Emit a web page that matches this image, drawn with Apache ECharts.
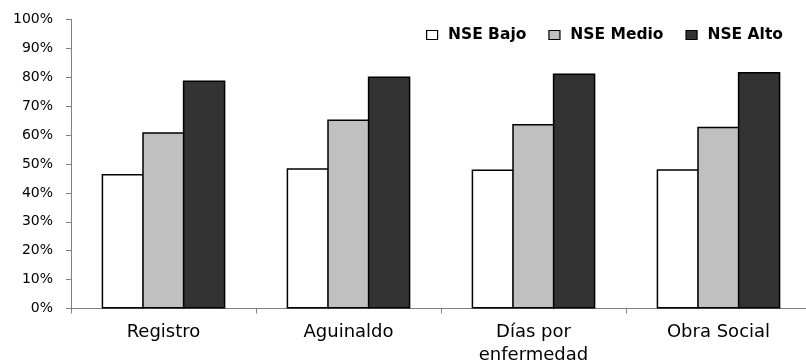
<!DOCTYPE html>
<html>
<head>
<meta charset="utf-8">
<script src="https://cdn.jsdelivr.net/npm/echarts@6/dist/echarts.min.js"></script>
<style>
html,body{margin:0;padding:0;background:#fff;}
#chart{width:806px;height:361px;}
</style>
</head>
<body>
<div id="chart"></div>
<script>
const categories = ['Registro', 'Aguinaldo', 'Días por\nenfermedad', 'Obra Social'];
const seriesNames = ['NSE Bajo', 'NSE Medio', 'NSE Alto'];
const nseBajo = [46.5, 48.5, 48.1, 48.2];
const nseMedio = [61.0, 65.4, 63.8, 62.9];
const nseAlto = [78.9, 80.3, 81.3, 81.8];
const yTicks = [0, 10, 20, 30, 40, 50, 60, 70, 80, 90, 100];

const colors = ['#ffffff', '#c0c0c0', '#333333'];
const seriesData = [nseBajo, nseMedio, nseAlto];

const chart = echarts.init(document.getElementById('chart'), null, {renderer: 'canvas'});
const font = 'DejaVu Sans';
chart.setOption({
  animation: false,
  backgroundColor: '#ffffff',
  grid: {left: 71, top: 19.5, height: 289, width: 740, containLabel: false, outerBoundsMode: 'none'},
  legend: {
    left: 426, top: 27, padding: 0,
    itemWidth: 11, itemHeight: 9, itemGap: 22,
    icon: 'rect',
    data: seriesNames,
    formatter: name => ' ' + name,
    textStyle: {fontFamily: font, fontWeight: 'bold', fontSize: 15.5, color: '#000'},
    itemStyle: {borderColor: '#000', borderWidth: 1.2}
  },
  xAxis: {
    type: 'category',
    data: categories,
    axisLine: {lineStyle: {color: '#808080', width: 1}},
    axisTick: {show: true, length: 5, lineStyle: {color: '#808080'}},
    axisLabel: {fontFamily: font, fontSize: 18, color: '#000', margin: 12, lineHeight: 23, interval: 0}
  },
  yAxis: {
    type: 'value',
    min: yTicks[0], max: yTicks[yTicks.length - 1], interval: 10,
    splitLine: {show: false},
    axisLine: {show: true, lineStyle: {color: '#808080', width: 1}},
    axisTick: {show: true, length: 5, lineStyle: {color: '#808080'}},
    axisLabel: {fontFamily: font, fontSize: 14, color: '#000', margin: 18, formatter: '{value}%'}
  },
  series: seriesData.map((d, i) => ({
    name: seriesNames[i],
    type: 'bar',
    data: d,
    barWidth: 42.5,
    barGap: '-4.5%',
    itemStyle: {color: colors[i], borderColor: '#000', borderWidth: 1.5}
  }))
});
</script>
</body>
</html>
